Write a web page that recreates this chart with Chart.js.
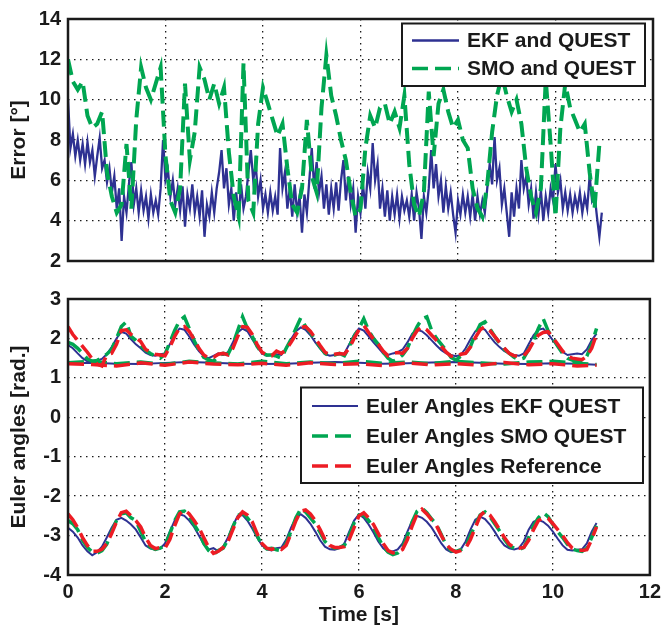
<!DOCTYPE html>
<html>
<head>
<meta charset="utf-8">
<title>Error and Euler angles</title>
<script src="https://cdn.jsdelivr.net/npm/chart.js@4.4.1/dist/chart.umd.min.js"></script>
<style>
  html, body { margin: 0; padding: 0; background: #fff; }
  #wrap { position: relative; width: 666px; height: 630px; }
  #wrap canvas { position: absolute; left: 0; }
  #errorChart { top: 0; }
  #eulerChart { top: 280px; }
</style>
</head>
<body>
<div id="wrap">
  <canvas id="errorChart" width="666" height="280"></canvas>
  <canvas id="eulerChart" width="666" height="350"></canvas>
</div>
<script>
// sample spacing of the series (seconds)
const ekfErrorStep = 0.05
const smoErrorStep = 0.1
const eulerStep = 0.1

const timeTicks = [0, 2, 4, 6, 8, 10, 12]
const errorTicks = [2, 4, 6, 8, 10, 12, 14]
const eulerTicks = [-4, -3, -2, -1, 0, 1, 2, 3]

// attitude error [deg]
const ekfError = [
  10.0, 7.6, 8.3, 7.2, 8.0, 7.0, 7.8, 6.8, 7.9, 6.9,
  7.5, 6.2, 7.2, 8.1, 6.6, 7.0, 5.9, 6.6, 5.4, 6.2,
  4.6, 5.6, 3.0, 5.2, 4.4, 5.8, 6.9, 4.8, 5.6, 4.4,
  5.5, 4.5, 5.2, 4.1, 5.3, 4.4, 5.0, 4.3, 5.6, 8.0,
  6.0, 6.5, 5.2, 6.0, 4.8, 5.6, 4.5, 5.7, 3.7, 5.3,
  4.6, 5.8, 4.4, 5.2, 4.2, 5.5, 3.2, 4.8, 4.2, 5.4,
  4.4, 5.6, 6.4, 7.5, 5.6, 6.6, 4.8, 5.6, 4.0, 5.4,
  4.2, 5.8, 4.6, 5.2, 6.4, 7.5, 6.0, 6.8, 5.2, 6.0,
  4.6, 5.3, 4.4, 5.4, 4.5, 5.2, 4.3, 7.6, 5.6, 6.4,
  4.6, 5.6, 4.2, 5.8, 4.4, 5.2, 3.4, 5.3, 4.4, 6.0,
  7.6, 5.6, 6.9, 5.4, 6.2, 4.6, 5.8, 4.3, 5.6, 4.6,
  5.9, 4.5, 6.0, 7.0, 5.0, 6.2, 4.8, 5.6, 3.4, 5.2,
  4.4, 5.8, 4.6, 6.4, 5.6, 7.85, 6.0, 6.8, 4.6, 5.6,
  4.2, 5.5, 4.0, 5.2, 4.3, 5.3, 4.1, 5.2, 4.5, 5.0,
  4.2, 5.3, 4.0, 5.4, 4.6, 3.1, 5.2, 4.4, 5.6, 7.5,
  5.6, 6.8, 5.2, 6.0, 4.4, 5.7, 4.6, 5.4, 4.3, 3.4,
  5.0, 4.3, 5.3, 4.4, 5.2, 4.2, 5.3, 4.0, 5.2, 4.3,
  5.0, 4.4, 5.6, 6.8, 5.8, 8.15, 6.0, 6.6, 4.8, 5.6,
  4.4, 3.2, 5.4, 4.2, 5.6, 4.6, 7.0, 5.6, 6.2, 4.8,
  5.6, 4.1, 5.4, 4.3, 5.5, 4.0, 5.2, 4.4, 5.6, 5.0,
  6.8, 5.4, 6.0, 4.6, 5.4, 4.5, 5.3, 4.4, 5.2, 4.6,
  5.4, 4.4, 5.2, 4.6, 6.2, 5.0, 5.3, 4.2, 3.2, 4.4
]
const smoError = [
  12.0, 10.9, 10.5, 10.9, 9.2, 8.6, 8.8, 9.4, 6.4, 5.2,
  4.4, 4.8, 7.8, 4.6, 9.0, 11.6, 10.6, 10.0, 10.8, 11.6,
  7.2, 5.0, 4.4, 5.6, 10.8, 7.0, 8.4, 11.6, 11.0, 10.0,
  10.8, 9.8, 10.6, 7.4, 5.2, 4.2, 11.8, 5.0, 4.4, 8.8,
  10.6, 9.8, 9.0, 8.2, 8.8, 6.6, 4.8, 4.4, 5.6, 9.0,
  6.2, 5.4, 9.6, 12.2, 10.2, 9.2, 8.0, 7.0, 5.4, 4.2,
  4.6, 7.6, 9.2, 8.6, 9.6, 9.8, 8.8, 9.4, 8.6, 10.2,
  6.8, 4.8, 4.2, 5.4, 10.4, 7.2, 9.8, 10.5, 9.4, 8.6,
  9.0, 8.0, 7.6, 5.6, 4.6, 4.2, 5.8, 8.4, 10.2, 11.2,
  10.2, 9.4, 10.0, 8.8, 6.6, 5.2, 4.4, 5.6, 11.0, 7.8,
  4.2, 8.6, 10.8, 9.6, 9.0, 8.4, 8.8, 6.4, 4.6, 7.8
]

// Euler angles [rad], three components per estimator
const ekfUpper = [
  1.83, 1.75, 1.62, 1.50, 1.42, 1.40, 1.44, 1.48, 1.60, 1.78,
  2.00, 2.17, 2.12, 1.98, 1.85, 1.75, 1.64, 1.58, 1.56, 1.60,
  1.62, 1.85, 2.10, 2.25, 2.22, 2.05, 1.85, 1.68, 1.55, 1.50,
  1.56, 1.62, 1.58, 1.65, 1.90, 2.15, 2.25, 2.18, 1.98, 1.80,
  1.62, 1.56, 1.58, 1.60, 1.58, 1.75, 1.98, 2.18, 2.28, 2.22,
  2.08, 1.90, 1.74, 1.60, 1.56, 1.58, 1.60, 1.62, 1.85, 2.10,
  2.25, 2.20, 2.05, 1.90, 1.76, 1.62, 1.58, 1.62, 1.65, 1.72,
  1.90, 2.12, 2.22, 2.18, 2.08, 1.95, 1.82, 1.70, 1.62, 1.58,
  1.55, 1.58, 1.75, 1.98, 2.18, 2.28, 2.22, 2.05, 1.90, 1.78,
  1.68, 1.62, 1.58, 1.56, 1.62, 1.85, 2.08, 2.22, 2.25, 2.12,
  1.95, 1.80, 1.66, 1.58, 1.60, 1.62, 1.60, 1.72, 1.95, 2.12
]
const smoUpper = [
  1.90, 1.85, 1.75, 1.62, 1.48, 1.42, 1.44, 1.52, 1.60, 1.72,
  2.00, 2.30, 2.42, 2.05, 1.95, 1.82, 1.70, 1.62, 1.55, 1.50,
  1.60, 1.90, 2.20, 2.45, 2.55, 2.25, 1.95, 1.70, 1.52, 1.46,
  1.42, 1.55, 1.62, 1.60, 1.85, 2.20, 2.55, 2.25, 2.05, 1.80,
  1.62, 1.58, 1.58, 1.55, 1.50, 1.75, 1.98, 2.25, 2.52, 2.30,
  2.15, 1.95, 1.78, 1.62, 1.55, 1.58, 1.62, 1.56, 1.80, 2.05,
  2.25, 2.50, 2.20, 2.00, 1.85, 1.65, 1.50, 1.42, 1.48, 1.58,
  1.75, 2.05, 2.30, 2.50, 2.55, 2.20, 2.00, 1.85, 1.70, 1.52,
  1.45, 1.55, 1.62, 1.80, 2.10, 2.35, 2.42, 2.25, 2.05, 1.88,
  1.72, 1.62, 1.52, 1.46, 1.50, 1.72, 1.95, 2.25, 2.50, 2.20,
  2.00, 1.80, 1.62, 1.50, 1.45, 1.42, 1.40, 1.55, 1.85, 2.25
]
const refUpper = [
  2.30, 2.10, 1.95, 1.80, 1.65, 1.48, 1.35, 1.30, 1.58, 1.62,
  1.85, 2.20, 2.22, 2.10, 2.02, 1.92, 1.72, 1.66, 1.60, 1.58,
  1.56, 1.78, 2.05, 2.26, 2.30, 2.18, 1.98, 1.75, 1.58, 1.50,
  1.52, 1.60, 1.62, 1.58, 1.75, 2.05, 2.30, 2.28, 2.10, 1.85,
  1.65, 1.58, 1.56, 1.68, 1.62, 1.72, 1.90, 2.10, 2.28, 2.30,
  2.18, 2.00, 1.82, 1.65, 1.58, 1.60, 1.62, 1.60, 1.75, 2.00,
  2.22, 2.33, 2.15, 1.98, 1.85, 1.68, 1.56, 1.62, 1.64, 1.62,
  1.75, 2.00, 2.20, 2.30, 2.22, 2.08, 1.95, 1.80, 1.65, 1.55,
  1.52, 1.60, 1.62, 1.78, 2.02, 2.22, 2.30, 2.20, 2.05, 1.90,
  1.75, 1.62, 1.56, 1.55, 1.56, 1.70, 1.92, 2.08, 2.15, 2.17,
  2.02, 1.85, 1.68, 1.55, 1.50, 1.48, 1.46, 1.55, 1.75, 2.10
]

const flatTime = [0, 0.5, 1, 1.5, 2, 2.5, 3, 3.5, 4, 4.5, 5, 5.5, 6, 6.5, 7, 7.5, 8, 8.5, 9, 9.5, 10, 10.5, 10.9]
const ekfFlat = [1.37, 1.38, 1.36, 1.35, 1.38, 1.40, 1.38, 1.36, 1.35, 1.36, 1.38, 1.40, 1.38, 1.36, 1.37, 1.39, 1.40, 1.38, 1.36, 1.35, 1.37, 1.36, 1.33]
const smoFlat = [1.38, 1.42, 1.36, 1.40, 1.34, 1.42, 1.38, 1.35, 1.42, 1.36, 1.40, 1.36, 1.42, 1.37, 1.40, 1.36, 1.42, 1.38, 1.35, 1.40, 1.42, 1.37, 1.34]
const refFlat = [1.36, 1.34, 1.30, 1.38, 1.32, 1.40, 1.35, 1.33, 1.37, 1.32, 1.38, 1.34, 1.36, 1.31, 1.38, 1.33, 1.36, 1.32, 1.39, 1.33, 1.36, 1.30, 1.32]

const ekfLower = [
  -2.80, -2.90, -3.05, -3.25, -3.40, -3.50, -3.42, -3.28, -3.05, -2.80,
  -2.60, -2.55, -2.62, -2.72, -2.85, -3.05, -3.25, -3.33, -3.35, -3.33,
  -3.20, -2.90, -2.62, -2.46, -2.50, -2.62, -2.78, -3.00, -3.22, -3.35,
  -3.32, -3.40, -3.28, -3.05, -2.75, -2.50, -2.48, -2.62, -2.82, -3.05,
  -3.25, -3.35, -3.38, -3.32, -3.30, -3.10, -2.80, -2.55, -2.46, -2.55,
  -2.70, -2.90, -3.12, -3.28, -3.35, -3.36, -3.32, -3.20, -2.90, -2.62,
  -2.46, -2.55, -2.72, -2.92, -3.15, -3.32, -3.42, -3.40, -3.35, -3.20,
  -2.90, -2.62, -2.50, -2.55, -2.65, -2.80, -3.00, -3.20, -3.35, -3.42,
  -3.40, -3.35, -3.15, -2.85, -2.60, -2.52, -2.58, -2.72, -2.90, -3.10,
  -3.25, -3.32, -3.35, -3.32, -3.15, -2.85, -2.65, -2.60, -2.65, -2.75,
  -2.90, -3.08, -3.25, -3.36, -3.38, -3.36, -3.35, -3.20, -2.90, -2.68
]
const smoLower = [
  -2.62, -2.70, -2.85, -3.12, -3.30, -3.42, -3.45, -3.38, -3.22, -2.90,
  -2.62, -2.45, -2.42, -2.55, -2.62, -2.90, -3.15, -3.30, -3.35, -3.32,
  -3.25, -2.95, -2.62, -2.40, -2.38, -2.52, -2.72, -2.92, -3.20, -3.38,
  -3.48, -3.38, -3.32, -3.10, -2.78, -2.50, -2.42, -2.55, -2.72, -3.00,
  -3.25, -3.34, -3.32, -3.36, -3.38, -3.20, -2.88, -2.55, -2.32, -2.40,
  -2.55, -2.70, -2.92, -3.15, -3.28, -3.32, -3.30, -3.25, -3.00, -2.68,
  -2.48, -2.48, -2.62, -2.80, -3.05, -3.28, -3.42, -3.48, -3.44, -3.30,
  -3.00, -2.65, -2.38, -2.30, -2.42, -2.58, -2.72, -2.98, -3.25, -3.38,
  -3.40, -3.36, -3.28, -3.00, -2.72, -2.48, -2.40, -2.52, -2.70, -2.88,
  -3.10, -3.26, -3.32, -3.36, -3.30, -3.05, -2.75, -2.55, -2.42, -2.52,
  -2.72, -2.90, -3.05, -3.22, -3.34, -3.38, -3.40, -3.32, -3.05, -2.75
]
const refLower = [
  -2.45, -2.60, -2.80, -3.05, -3.25, -3.40, -3.40, -3.35, -3.20, -2.95,
  -2.65, -2.42, -2.38, -2.50, -2.62, -2.78, -3.05, -3.25, -3.33, -3.30,
  -3.32, -3.10, -2.75, -2.45, -2.35, -2.45, -2.62, -2.80, -3.05, -3.30,
  -3.45, -3.40, -3.30, -3.15, -2.85, -2.55, -2.40, -2.48, -2.65, -2.95,
  -3.20, -3.32, -3.35, -3.30, -3.35, -3.25, -2.95, -2.62, -2.38, -2.35,
  -2.45, -2.62, -2.85, -3.10, -3.25, -3.30, -3.30, -3.28, -3.10, -2.80,
  -2.50, -2.42, -2.55, -2.72, -2.95, -3.20, -3.38, -3.44, -3.42, -3.35,
  -3.10, -2.75, -2.45, -2.33, -2.45, -2.60, -2.75, -3.00, -3.22, -3.35,
  -3.42, -3.38, -3.32, -3.10, -2.80, -2.50, -2.38, -2.48, -2.65, -2.85,
  -3.05, -3.22, -3.30, -3.32, -3.30, -3.12, -2.85, -2.62, -2.55, -2.56,
  -2.70, -2.85, -3.00, -3.18, -3.32, -3.36, -3.38, -3.36, -3.10, -2.78
]

const BLUE = '#2e3192'
const GREEN = '#00a651'
const RED = '#ed1c24'
const INK = '#1a1a1a'
const FONT = "'Liberation Sans', Arial, Helvetica, sans-serif"

Chart.defaults.font.family = FONT
Chart.defaults.font.weight = 'bold'
Chart.defaults.color = INK

const stepped = (values, step) => values.map((v, i) => ({ x: Math.round(i * step * 100) / 100, y: v }))
const timed = (values, times) => values.map((v, i) => ({ x: times[i], y: v }))

// axes box + boxed legend drawn on top of the plot, like the original figure
const boxLegend = {
  id: 'boxLegend',
  afterDraw(chart, args, opts) {
    const ctx = chart.ctx
    const area = chart.chartArea
    ctx.save()
    ctx.strokeStyle = INK
    ctx.lineWidth = 2.5
    ctx.strokeRect(area.left, area.top, area.right - area.left, area.bottom - area.top)

    const b = opts.box
    ctx.fillStyle = '#fff'
    ctx.fillRect(b.x, b.y, b.w, b.h)
    ctx.lineWidth = 2
    ctx.strokeRect(b.x, b.y, b.w, b.h)
    ctx.font = `bold 21px ${FONT}`
    ctx.textBaseline = 'middle'
    opts.entries.forEach((idx, row) => {
      const ds = chart.data.datasets[idx]
      const y = b.y + opts.firstRow + row * opts.rowGap
      ctx.strokeStyle = ds.borderColor
      ctx.lineWidth = Math.min(ds.borderWidth, 3.5)
      ctx.setLineDash(ds.borderDash || [])
      ctx.beginPath()
      ctx.moveTo(b.x + opts.lineFrom, y)
      ctx.lineTo(b.x + opts.lineTo, y)
      ctx.stroke()
      ctx.setLineDash([])
      ctx.fillStyle = INK
      ctx.fillText(ds.label, b.x + opts.textFrom, y + 1)
    })
    ctx.restore()
  }
}

const gridStyle = { color: INK, lineWidth: 1.3, drawTicks: false }
const borderStyle = { display: false, dash: [1.5, 4.5] }

const timeAxis = (showLabels) => ({
  type: 'linear',
  min: 0,
  max: 12,
  afterBuildTicks: (scale) => { scale.ticks = timeTicks.map((v) => ({ value: v })) },
  afterFit: (scale) => { scale.height = showLabels ? 55 : 15 },
  grid: gridStyle,
  border: borderStyle,
  ticks: { display: showLabels, padding: 5, font: { size: 20 } },
  title: { display: showLabels, text: 'Time [s]', padding: { top: 0, bottom: 2 }, font: { size: 21 } }
})

const valueAxis = (min, max, tickValues, label) => ({
  type: 'linear',
  min,
  max,
  afterBuildTicks: (scale) => { scale.ticks = tickValues.map((v) => ({ value: v })) },
  afterFit: (scale) => { scale.width = 68 },
  grid: gridStyle,
  border: borderStyle,
  ticks: { padding: 7, font: { size: 20 } },
  title: { display: true, text: label, padding: { top: 7, bottom: 0 }, font: { size: 21 } }
})

const lineSet = (label, data, color, width, dash, order) => ({
  label,
  data,
  borderColor: color,
  borderWidth: width,
  borderDash: dash,
  order,
  pointRadius: 0,
  tension: 0,
  fill: false
})

const DASH = [16, 7]

new Chart(document.querySelector('#errorChart'), {
  type: 'line',
  data: {
    datasets: [
      lineSet('EKF and QUEST', stepped(ekfError, ekfErrorStep), BLUE, 2.3, [], 1),
      lineSet('SMO and QUEST', stepped(smoError, smoErrorStep), GREEN, 4, DASH, 0)
    ]
  },
  options: {
    responsive: false,
    animation: false,
    layout: { padding: { top: 15, right: 13, left: 0, bottom: 0 } },
    scales: {
      x: timeAxis(false),
      y: valueAxis(2, 14, errorTicks, 'Error [°]')
    },
    plugins: {
      legend: { display: false },
      tooltip: { enabled: false },
      boxLegend: {
        box: { x: 402, y: 23.5, w: 243, h: 62.5 },
        entries: [0, 1],
        firstRow: 17,
        rowGap: 28,
        lineFrom: 10,
        lineTo: 57,
        textFrom: 65
      }
    }
  },
  plugins: [boxLegend]
})

new Chart(document.querySelector('#eulerChart'), {
  type: 'line',
  data: {
    datasets: [
      lineSet('Euler Angles EKF QUEST', stepped(ekfUpper, eulerStep), BLUE, 2, [], 2),
      lineSet('Euler Angles SMO QUEST', stepped(smoUpper, eulerStep), GREEN, 3.5, DASH, 1),
      lineSet('Euler Angles Reference', stepped(refUpper, eulerStep), RED, 3.5, DASH, 0),
      lineSet('EKF flat', timed(ekfFlat, flatTime), BLUE, 2, [], 2),
      lineSet('SMO flat', timed(smoFlat, flatTime), GREEN, 3.5, DASH, 1),
      lineSet('Reference flat', timed(refFlat, flatTime), RED, 3.5, DASH, 0),
      lineSet('EKF lower', stepped(ekfLower, eulerStep), BLUE, 2, [], 2),
      lineSet('SMO lower', stepped(smoLower, eulerStep), GREEN, 3.5, DASH, 1),
      lineSet('Reference lower', stepped(refLower, eulerStep), RED, 3.5, DASH, 0)
    ]
  },
  options: {
    responsive: false,
    animation: false,
    layout: { padding: { top: 15, right: 13, left: 0, bottom: 0 } },
    scales: {
      x: timeAxis(true),
      y: valueAxis(-4, 3, eulerTicks, 'Euler angles [rad.]')
    },
    plugins: {
      legend: { display: false },
      tooltip: { enabled: false },
      boxLegend: {
        box: { x: 301, y: 107.5, w: 342, h: 95.5 },
        entries: [0, 1, 2],
        firstRow: 18.5,
        rowGap: 30,
        lineFrom: 11,
        lineTo: 57,
        textFrom: 65
      }
    }
  },
  plugins: [boxLegend]
})
</script>
</body>
</html>
